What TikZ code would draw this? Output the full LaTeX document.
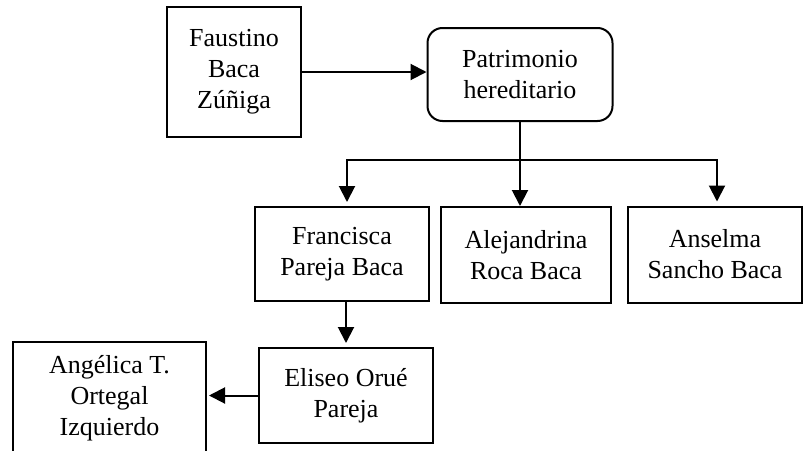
\documentclass[tikz,border=0pt]{standalone}
\usepackage{fontspec}
\setmainfont{Liberation Serif}
\usetikzlibrary{arrows.meta}
\begin{document}
\begin{tikzpicture}[x=0.5pt,y=-0.5pt,
    box/.style={draw,line width=1pt,inner sep=0pt,align=center,
        font=\fontsize{13}{15.5}\selectfont},
    arr/.style={line width=1pt,-{Triangle[length=8pt,width=8pt]}}]
                \useasboundingbox (0,0) rectangle (803,450);
                %% causante
                \node[box,minimum width=67pt,minimum height=65pt] (fau) at (234,72) {Faustino\\Baca\\Zúñiga};
                \node[box,rounded corners=7.5pt,minimum width=92.5pt,minimum height=46.5pt] (pat) at (520,74.5) {Patrimonio\\hereditario};
                \draw[arr] (fau.east) -- (fau.east -| pat.west);
                %% herederas
                \node[box,minimum width=87pt,minimum height=47pt] (fra) at (342,254) {Francisca\\Pareja Baca};
                \node[box,minimum width=85pt,minimum height=48pt] (ale) at (526,255) {Alejandrina\\Roca Baca};
                \node[box,minimum width=87pt,minimum height=48pt] (ans) at (715,254.5) {Anselma\\Sancho Baca};
                \coordinate (split) at (520,160);
                \draw[line width=1pt] (pat.south) -- (split);
                \draw[arr,shorten >=2pt] (split) -| ([xshift=2.5pt]fra.north);
                \draw[arr] (split) -- (split |- ale.north);
                \draw[arr,shorten >=2pt] (split) -| ([xshift=1pt]ans.north);
                %% descendientes
                \node[box,minimum width=87pt,minimum height=47.5pt] (eli) at (346,395.5) {Eliseo Orué\\Pareja};
                \node[box,minimum width=96.5pt,minimum height=56pt] (ang) at (109.5,398) {Angélica T.\\Ortegal\\Izquierdo};
                \draw[arr,shorten >=2pt] (eli.north |- fra.south) -- (eli.north);
                \draw[arr,shorten >=1pt] (eli.west) -- (eli.west -| ang.east);
            \end{tikzpicture}
\end{document}
